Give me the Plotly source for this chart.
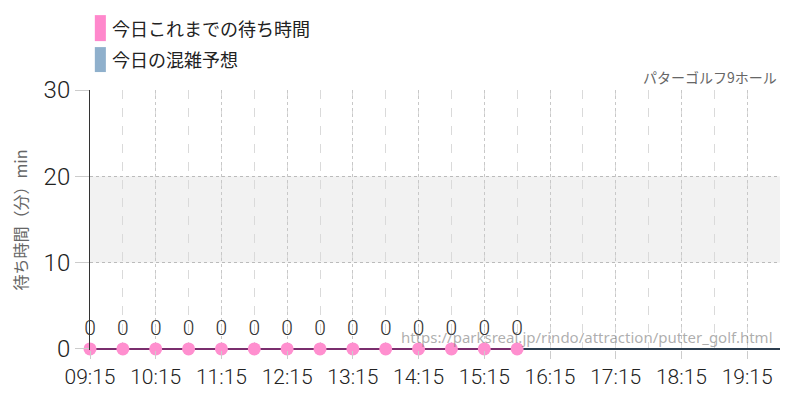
import plotly.graph_objects as go

# wait times recorded so far today (minutes)
actual_times = ["09:15", "09:45", "10:15", "10:45", "11:15", "11:45", "12:15",
                "12:45", "13:15", "13:45", "14:15", "14:45", "15:15", "15:45"]
actual_waits = [0, 0, 0, 0, 0, 0, 0, 0, 0, 0, 0, 0, 0, 0]

# forecast for the rest of the day
forecast_times = ["09:15", "15:45", "19:45"]
forecast_waits = [0, 0, 0]

tick_times = ["09:15", "10:15", "11:15", "12:15", "13:15", "14:15", "15:15",
              "16:15", "17:15", "18:15", "19:15"]

day = "2024-01-01 "
def ts(lst):
    return [day + t for t in lst]

num_font = "Roboto"
jp_font = "Noto Sans CJK JP"

fig = go.Figure()

fig.add_trace(go.Scatter(
    x=ts(forecast_times), y=forecast_waits, mode="lines",
    line=dict(color="#2c3e50", width=2), hoverinfo="skip", cliponaxis=False,
))
fig.add_trace(go.Scatter(
    x=ts(actual_times), y=actual_waits, mode="lines+markers+text",
    line=dict(color="#7a2e6e", width=2),
    marker=dict(color="#ff8fcf", size=13),
    text=[str(v) for v in actual_waits], textposition="top center",
    textfont=dict(family=num_font, size=21, color="#333333", weight=300),
    cliponaxis=False,
))

# shaded band 10-20
fig.add_shape(type="rect", xref="paper", yref="y", x0=0, x1=1, y0=10, y1=20,
              fillcolor="#f2f2f2", line_width=0, layer="below")

# legend swatches
fig.add_shape(type="rect", xref="paper", yref="paper", x0=0.007, x1=0.023,
              y0=1.188, y1=1.288, fillcolor="#ff88cc", line_width=0)
fig.add_shape(type="rect", xref="paper", yref="paper", x0=0.007, x1=0.023,
              y0=1.069, y1=1.165, fillcolor="#8fb0cc", line_width=0)
fig.add_annotation(text="今日これまでの待ち時間", xref="paper", yref="paper",
                   x=0.029, y=1.238, xanchor="left", yanchor="middle", showarrow=False,
                   font=dict(family=jp_font, size=18, color="#222222"))
fig.add_annotation(text="今日の混雑予想", xref="paper", yref="paper",
                   x=0.029, y=1.119, xanchor="left", yanchor="middle", showarrow=False,
                   font=dict(family=jp_font, size=18, color="#222222"))

fig.add_annotation(text="パターゴルフ9ホール", xref="paper", yref="paper",
                   x=0.998, y=1.05, xanchor="right", yanchor="middle", showarrow=False,
                   font=dict(family=jp_font, size=14, color="#666666"))
fig.add_annotation(text="https://parksreal.jp/rindo/attraction/putter_golf.html",
                   xref="paper", yref="paper", x=0.993, y=0.05, xanchor="right",
                   yanchor="middle", showarrow=False,
                   font=dict(family="Noto Sans", size=15, color="rgba(120,120,120,0.6)"))

fig.update_layout(
    width=792, height=392,
    margin=dict(l=82, r=20, t=82, b=50, autoexpand=False),
    plot_bgcolor="white", paper_bgcolor="white",
    showlegend=False,
    xaxis=dict(
        type="date",
        range=[day + "09:15", day + "19:45"],
        tickvals=ts(tick_times), tickformat="%H:%M",
        tickfont=dict(family=num_font, size=21, color="#222222", weight=300),
        ticks="outside", ticklen=8, tickcolor="#cccccc",
        showgrid=True, gridcolor="#c8c8c8", griddash="dot", gridwidth=1,
        minor=dict(dtick=30 * 60 * 1000, tick0=day + "09:45", showgrid=True,
                   gridcolor="#dadada", griddash="dash", gridwidth=1),
        showline=False, zeroline=False, fixedrange=True, automargin=False,
    ),
    yaxis=dict(
        range=[-0.12, 30], tickvals=[0, 10, 20, 30],
        tickfont=dict(family=num_font, size=24, color="#222222", weight=300),
        ticks="outside", ticklen=14, tickcolor="#cccccc",
        showgrid=True, gridcolor="#bbbbbb", griddash="dot",
        showline=True, linecolor="#333333", linewidth=1,
        zeroline=False, automargin=False,
        title=dict(text="待ち時間（分）min", standoff=20,
                   font=dict(family=jp_font, size=16, color="#666666")),
    ),
)

fig.write_html("out.html")
